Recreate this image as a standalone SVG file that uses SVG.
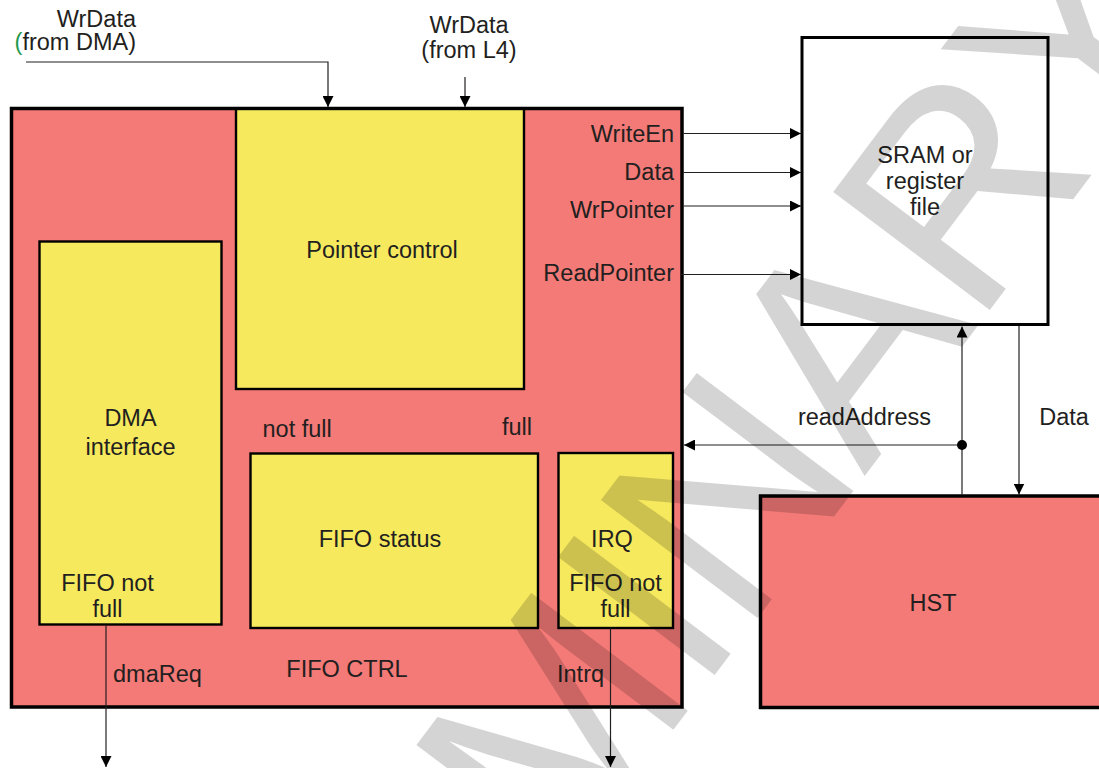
<svg xmlns="http://www.w3.org/2000/svg" width="1099" height="768" viewBox="0 0 1099 768">
<defs>
<style>
.t{font-family:"Liberation Sans",Arial,sans-serif;font-size:23.5px;fill:#231f20}
.c{text-anchor:middle}
.e{text-anchor:end}
.red{fill:#f47a77;stroke:#000;stroke-width:3.5}
.yel{fill:#f6e95e;stroke:#000;stroke-width:2.4}
.ln{fill:none;stroke:#231f20;stroke-width:1.2}
.wm{font-family:"Liberation Sans",Arial,sans-serif;font-size:285px;fill:#000;fill-opacity:0.17}
</style>
<marker id="ah" viewBox="0 0 11 11" refX="11" refY="5.5" markerWidth="11" markerHeight="11" markerUnits="userSpaceOnUse" orient="auto"><path d="M0,0 L11,5.5 L0,11 z" fill="#000"/></marker>
</defs>
<rect width="1099" height="768" fill="#fff"/>
<g id="fifo-ctrl">
<rect class="red" x="11.5" y="108.5" width="670.5" height="598.5"/>
<text class="t c" x="347" y="677">FIFO CTRL</text>
</g>
<g id="pointer-control">
<rect class="yel" x="236" y="109" width="288" height="280"/>
<text class="t c" x="382" y="258">Pointer control</text>
</g>
<g id="dma-interface">
<rect class="yel" x="39.5" y="241.5" width="182" height="383"/>
<text class="t c" x="130.5" y="426">DMA</text>
<text class="t c" x="130.5" y="455">interface</text>
<text class="t c" x="107.5" y="591">FIFO not</text>
<text class="t c" x="107.5" y="617">full</text>
</g>
<g id="fifo-status">
<rect class="yel" x="250.5" y="453.5" width="287.5" height="174.5"/>
<text class="t c" x="380" y="547">FIFO status</text>
</g>
<g id="irq">
<rect class="yel" x="558.5" y="453" width="114.5" height="175"/>
<text class="t c" x="612" y="547">IRQ</text>
<text class="t c" x="615.5" y="591">FIFO not</text>
<text class="t c" x="615.5" y="617">full</text>
</g>
<g id="sram">
<rect x="802" y="37.5" width="246" height="287" fill="#fff" stroke="#000" stroke-width="3"/>
<text class="t c" x="925" y="163">SRAM or</text>
<text class="t c" x="925" y="189">register</text>
<text class="t c" x="925" y="215">file</text>
</g>
<g id="hst">
<rect class="red" x="760.5" y="496" width="345" height="211.5"/>
<text class="t c" x="933" y="611">HST</text>
</g>
<g id="labels">
<text class="t e" x="136" y="27">WrData</text>
<text class="t e" x="136" y="50"><tspan fill="#1f9a4e">(</tspan>from DMA)</text>
<text class="t c" x="469" y="33">WrData</text>
<text class="t c" x="469" y="58">(from L4)</text>
<text class="t e" x="674" y="142">WriteEn</text>
<text class="t e" x="674" y="180">Data</text>
<text class="t e" x="674" y="218">WrPointer</text>
<text class="t e" x="674" y="281">ReadPointer</text>
<text class="t" x="262.5" y="437">not full</text>
<text class="t" x="502" y="435">full</text>
<text class="t" x="113" y="682">dmaReq</text>
<text class="t" x="557" y="682">Intrq</text>
<text class="t c" x="864.5" y="425">readAddress</text>
<text class="t c" x="1064" y="425">Data</text>
</g>
<g id="connectors">
<path class="ln" d="M26,62 H328 V107" marker-end="url(#ah)"/>
<path class="ln" d="M465,77 V107" marker-end="url(#ah)"/>
<path class="ln" d="M683,133.5 H801" marker-end="url(#ah)"/>
<path class="ln" d="M683,172.5 H801" marker-end="url(#ah)"/>
<path class="ln" d="M683,206 H801" marker-end="url(#ah)"/>
<path class="ln" d="M681,274.5 H801" marker-end="url(#ah)"/>
<path class="ln" d="M962,495 V326.5" marker-end="url(#ah)"/>
<path class="ln" d="M962,445 H684" marker-end="url(#ah)"/>
<circle cx="962" cy="445" r="5" fill="#000"/>
<path class="ln" d="M1019,326 V494.5" marker-end="url(#ah)"/>
<path class="ln" d="M106,625 V767" marker-end="url(#ah)"/>
<path class="ln" d="M610.5,628 V767" marker-end="url(#ah)"/>
</g>
<g id="watermark">
<text class="wm" transform="translate(78.3,1519.5) rotate(-53)" letter-spacing="-5">PRELIMINARY</text>
</g>
</svg>
